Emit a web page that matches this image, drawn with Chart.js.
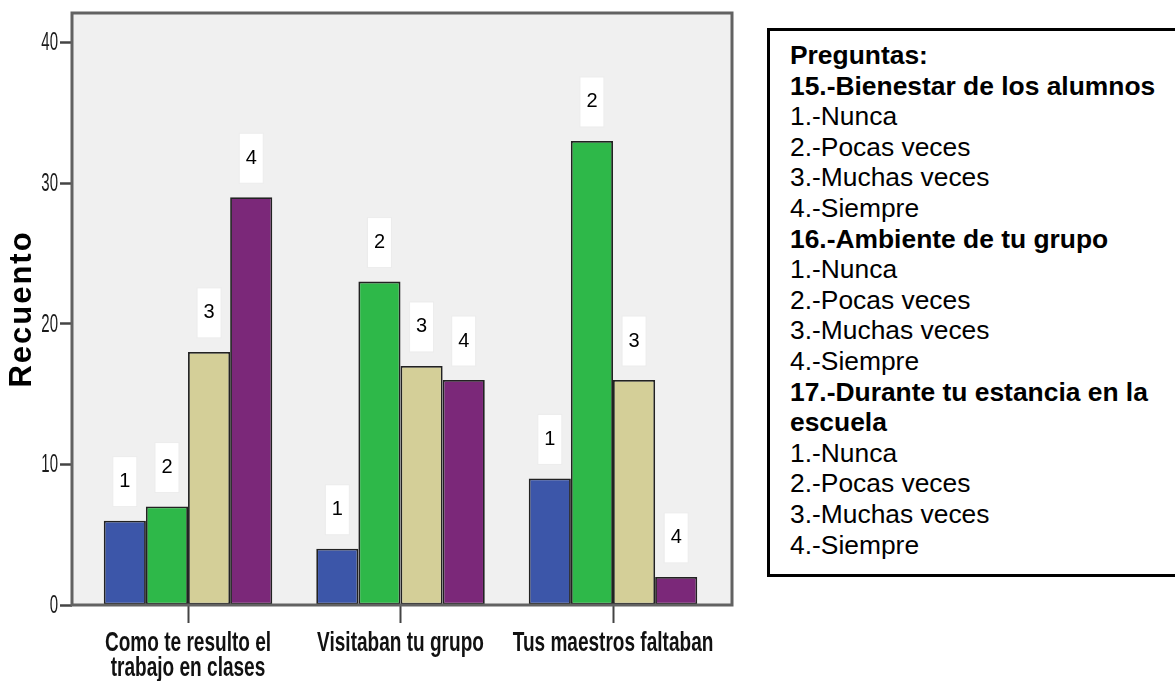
<!DOCTYPE html>
<html lang="es">
<head>
<meta charset="utf-8">
<title>Recuento por pregunta</title>
<script src="https://cdn.jsdelivr.net/npm/chart.js@4/dist/chart.umd.min.js"></script>
<style>
  html, body { margin: 0; padding: 0; background: #fff; }
  #wrap { position: relative; width: 1175px; height: 681px; overflow: hidden; }
  #chartBox { position: absolute; left: 0; top: 0; width: 1175px; height: 681px; }
  #notes {
    position: absolute;
    left: 767px;
    top: 28px;
    width: 440px;
    height: 534px;
    border: 3px solid #000;
    box-sizing: content-box;
    padding: 9px 0 0 20px;
    font-family: 'Liberation Sans', Arial, sans-serif;
    font-size: 26.4px;
    line-height: 30.6px;
    color: #000;
    white-space: nowrap;
    background: #fff;
  }
  #notes b { font-weight: bold; }
</style>
</head>
<body>
<div id="wrap">
  <div id="chartBox"><canvas id="chart"></canvas></div>
  <div id="notes">
    <b>Preguntas:</b><br>
    <b>15.-Bienestar de los alumnos</b><br>
    1.-Nunca<br>
    2.-Pocas veces<br>
    3.-Muchas veces<br>
    4.-Siempre<br>
    <b>16.-Ambiente de tu grupo</b><br>
    1.-Nunca<br>
    2.-Pocas veces<br>
    3.-Muchas veces<br>
    4.-Siempre<br>
    <b>17.-Durante tu estancia en la</b><br>
    <b>escuela</b><br>
    1.-Nunca<br>
    2.-Pocas veces<br>
    3.-Muchas veces<br>
    4.-Siempre
  </div>
</div>
<script>
// data
const categories = [['Como te resulto el', 'trabajo en clases'], 'Visitaban tu grupo', 'Tus maestros faltaban'];
const answerCodes = ['1', '2', '3', '4'];
const nunca = [6, 4, 9];
const pocasVeces = [7, 23, 33];
const muchasVeces = [18, 17, 16];
const siempre = [29, 16, 2];
const yTicks = [0, 10, 20, 30, 40];

const barColors = ['#3c56a9', '#2eb849', '#d4cf98', '#7b2879'];
const sansFont = "'Liberation Sans', Arial, sans-serif";

const series = [nunca, pocasVeces, muchasVeces, siempre];

// plot background and frame, like the SPSS output
const plotFrame = {
  id: 'plotFrame',
  beforeDraw(chart) {
    // spaced out axis title
    chart.ctx.letterSpacing = '2px';
  },
  beforeDatasetsDraw(chart) {
    const { ctx, chartArea: a } = chart;
    ctx.letterSpacing = '0px';
    ctx.save();
    ctx.fillStyle = '#f0f0f0';
    ctx.fillRect(a.left, a.top, a.right - a.left, a.bottom - a.top);
    ctx.restore();
  },
  afterDatasetsDraw(chart) {
    const { ctx, chartArea: a } = chart;
    ctx.save();
    ctx.strokeStyle = '#626262';
    ctx.lineWidth = 3;
    ctx.strokeRect(a.left, a.top, a.right - a.left, a.bottom - a.top);
    ctx.restore();
  }
};

// the SPSS labels use a narrow font; no narrow font is installed, so squeeze a normal one
const narrowLabels = {
  id: 'narrowLabels',
  afterDraw(chart) {
    const { ctx, scales } = chart;
    ctx.save();
    ctx.fillStyle = '#111';
    ctx.textBaseline = 'middle';

    ctx.font = 'bold 28px ' + sansFont;
    ctx.textAlign = 'center';
    categories.forEach((label, i) => {
      const lines = Array.isArray(label) ? label : [label];
      const x = scales.x.getPixelForValue(i);
      lines.forEach((line, k) => {
        ctx.save();
        ctx.translate(x, scales.x.top + 38 + k * 25);
        ctx.scale(0.68, 1);
        ctx.fillText(line, 0, 0);
        ctx.restore();
      });
    });

    ctx.font = '25px ' + sansFont;
    ctx.textAlign = 'right';
    ctx.fillStyle = '#1a1a1a';
    yTicks.forEach((v) => {
      ctx.save();
      ctx.translate(scales.y.right - 14, scales.y.getPixelForValue(v) + 1);
      ctx.scale(0.6, 1);
      ctx.fillText(String(v), 0, 0);
      ctx.restore();
    });
    ctx.restore();
  }
};

// white boxes with the answer number above each bar
const codeBoxes = {
  id: 'codeBoxes',
  afterDatasetsDraw(chart) {
    const { ctx } = chart;
    ctx.save();
    ctx.font = '20px ' + sansFont;
    ctx.textAlign = 'center';
    ctx.textBaseline = 'middle';
    chart.data.datasets.forEach((ds, i) => {
      chart.getDatasetMeta(i).data.forEach((bar) => {
        const w = 24, h = 50;
        const bottom = bar.y - 14;
        ctx.fillStyle = '#ffffff';
        ctx.fillRect(bar.x - w / 2, bottom - h, w, h);
        ctx.strokeStyle = '#ececec';
        ctx.lineWidth = 1;
        ctx.strokeRect(bar.x - w / 2, bottom - h, w, h);
        ctx.fillStyle = '#000';
        ctx.fillText(ds.label, bar.x, bottom - h / 2);
      });
    });
    ctx.restore();
  }
};

new Chart(document.getElementById('chart'), {
  type: 'bar',
  data: {
    datasets: series.map((values, i) => ({
      label: answerCodes[i],
      data: values.map((v, j) => ({ x: j, y: v })),
      backgroundColor: barColors[i],
      borderColor: '#222',
      borderWidth: 1.8,
      borderSkipped: false,
      categoryPercentage: 0.793,
      barPercentage: 1
    }))
  },
  options: {
    responsive: true,
    maintainAspectRatio: false,
    animation: false,
    layout: { padding: { top: 13, right: 443, left: 0, bottom: 0 } },
    plugins: {
      legend: { display: false },
      tooltip: { enabled: false }
    },
    scales: {
      x: {
        type: 'linear',
        min: -0.546,
        max: 2.56,
        offset: false,
        afterBuildTicks(axis) {
          axis.ticks = categories.map((c, i) => ({ value: i }));
        },
        afterFit(axis) {
          axis.height = 76;
        },
        grid: {
          offset: false,
          drawOnChartArea: false,
          drawTicks: true,
          tickLength: 18,
          tickColor: '#444',
          tickWidth: 2
        },
        border: { display: false },
        ticks: { display: false }
      },
      y: {
        min: 0,
        max: 42.1,
        afterBuildTicks(axis) {
          axis.ticks = yTicks.map((v) => ({ value: v }));
        },
        afterFit(axis) {
          axis.width = 72;
        },
        grid: {
          drawOnChartArea: false,
          drawTicks: true,
          tickLength: 12,
          tickColor: '#444',
          tickWidth: 2.5
        },
        border: { display: false },
        ticks: { display: false },
        title: {
          display: true,
          text: 'Recuento',
          color: '#000',
          padding: 4,
          font: { family: sansFont, size: 31, weight: 'bold', lineHeight: 1.2 }
        }
      }
    }
  },
  plugins: [plotFrame, narrowLabels, codeBoxes]
});
</script>
</body>
</html>
